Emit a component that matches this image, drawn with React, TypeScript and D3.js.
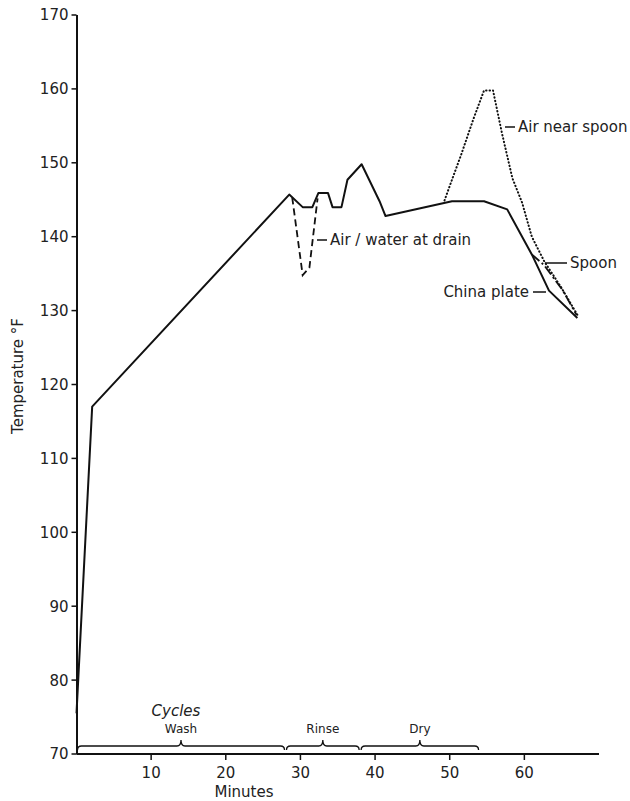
import React from "react";
import * as d3 from "d3";

const yTicks = [70, 80, 90, 100, 110, 120, 130, 140, 150, 160, 170];
const xTicks = [10, 20, 30, 40, 50, 60];

// China plate (solid)
const plateMin = [0, 2.1, 28.5, 30.3, 31.6, 32.4, 33.7, 34.3, 35.5, 36.3, 38.2, 40.6, 41.4, 50.3, 54.6, 57.7, 61.0, 63.3, 67.1];
const plateTemp = [75.5, 117, 145.7, 144, 144, 145.9, 145.9, 144, 144, 147.7, 149.8, 144.8, 142.8, 144.8, 144.8, 143.7, 137.6, 132.7, 129.0];

// Air / water at drain (dashed)
const drainMin = [28.9, 30.3, 31.2, 32.3];
const drainTemp = [145.3, 134.8, 135.8, 145.2];

// Air near spoon (dotted)
const airMin = [49.3, 50.3, 51.5, 53.2, 54.6, 55.8, 57.0, 58.4, 59.7, 61.0, 62.7, 64.9, 67.3];
const airTemp = [144.9, 147.7, 151, 156, 159.8, 159.8, 154, 147.9, 144.6, 140.0, 136.6, 133.2, 129.1];

// Spoon (dash-dot)
const spoonMin = [61.0, 62.6, 65.1, 67.0];
const spoonTemp = [137.6, 136.2, 132.8, 129.4];

const cycleNames = ["Wash", "Rinse", "Dry"];
const cycleStart = [0, 28, 38];
const cycleEnd = [28, 38, 54];

const W = 630;
const H = 801;
const FONT = "DejaVu Sans, Liberation Sans, sans-serif";

export default function App() {
  const x = d3.scaleLinear().domain([0, 70]).range([76.5, 599]);
  const y = d3.scaleLinear().domain([70, 170]).range([754, 15]);
  const line = d3
    .line<[number, number]>()
    .x((d) => x(d[0]))
    .y((d) => y(d[1]));
  const zip = (a: number[], b: number[]) => a.map((v, i) => [v, b[i]] as [number, number]);

  const braceY0 = 750;
  const braceY1 = 746;
  const braceTop = 740;
  const brace = (s: number, e: number) => {
    const x0 = x(s) + 1;
    const x1 = x(e) - 1;
    const m = (x0 + x1) / 2;
    const r = 4;
    return `M${x0},${braceY0} Q${x0},${braceY1} ${x0 + r},${braceY1} L${m - r},${braceY1} Q${m},${braceY1} ${m},${braceTop} Q${m},${braceY1} ${m + r},${braceY1} L${x1 - r},${braceY1} Q${x1},${braceY1} ${x1},${braceY0}`;
  };

  return (
    <svg
      width={W}
      height={H}
      style={{ position: "absolute", left: 0, top: 0, background: "#fff" }}
      fontFamily={FONT}
    >
      <rect width={W} height={H} fill="#fff" />
      {/* axes */}
      <line x1={x(0) + 0.5} x2={x(0) + 0.5} y1={y(170)} y2={y(70)} stroke="#111" strokeWidth={2} />
      <line x1={x(0)} x2={x(70)} y1={y(70)} y2={y(70)} stroke="#111" strokeWidth={2.2} />
      {yTicks.map((t) => (
        <g key={"y" + t}>
          <line x1={x(0) - 5} x2={x(0)} y1={y(t)} y2={y(t)} stroke="#111" strokeWidth={1.5} />
          <text x={x(0) - 8} y={y(t)} dy="0.36em" textAnchor="end" fontSize={15} fill="#222">
            {t}
          </text>
        </g>
      ))}
      {xTicks.map((t) => (
        <g key={"x" + t}>
          <line x1={x(t)} x2={x(t)} y1={y(70)} y2={y(70) + 6} stroke="#111" strokeWidth={1.5} />
          <text x={x(t)} y={778} textAnchor="middle" fontSize={15} fill="#222">
            {t}
          </text>
        </g>
      ))}
      <text x={244} y={797} textAnchor="middle" fontSize={15} fill="#222">
        Minutes
      </text>
      <text
        transform={`translate(23,376) rotate(-90)`}
        textAnchor="middle"
        fontSize={15}
        fill="#222"
      >
        Temperature °F
      </text>

      {/* series */}
      <path d={line(zip(plateMin, plateTemp)) || ""} fill="none" stroke="#111" strokeWidth={2} strokeLinejoin="round" />
      <path d={line(zip(drainMin, drainTemp)) || ""} fill="none" stroke="#111" strokeWidth={1.8} strokeDasharray="7 4" />
      <path
        d={line(zip(airMin, airTemp)) || ""}
        fill="none"
        stroke="#111"
        strokeWidth={2}
        strokeDasharray="0.5 3"
        strokeLinecap="round"
      />
      <path d={line(zip(spoonMin, spoonTemp)) || ""} fill="none" stroke="#111" strokeWidth={1.8} strokeDasharray="10 3 2 3" />

      {/* annotations */}
      <line x1={505} x2={515} y1={127} y2={127} stroke="#111" strokeWidth={1.5} />
      <text x={518} y={127} dy="0.36em" fontSize={15} fill="#222">Air near spoon</text>
      <line x1={317} x2={327} y1={240} y2={240} stroke="#111" strokeWidth={1.5} />
      <text x={330} y={240} dy="0.36em" fontSize={15} fill="#222">Air / water at drain</text>
      <line x1={545} x2={567} y1={263} y2={263} stroke="#111" strokeWidth={1.5} />
      <text x={570} y={263} dy="0.36em" fontSize={15} fill="#222">Spoon</text>
      <line x1={533} x2={546} y1={292} y2={292} stroke="#111" strokeWidth={1.5} />
      <text x={529} y={292} dy="0.36em" textAnchor="end" fontSize={15} fill="#222">China plate</text>

      {/* cycles */}
      <text x={176} y={716} textAnchor="middle" fontSize={15} fontStyle="italic" fill="#222">
        Cycles
      </text>
      {cycleNames.map((n, i) => (
        <g key={n}>
          <path d={brace(cycleStart[i], cycleEnd[i])} fill="none" stroke="#111" strokeWidth={1.3} />
          <text
            x={x((cycleStart[i] + cycleEnd[i]) / 2)}
            y={733}
            textAnchor="middle"
            fontSize={12}
            fill="#222"
          >
            {n}
          </text>
        </g>
      ))}
    </svg>
  );
}
